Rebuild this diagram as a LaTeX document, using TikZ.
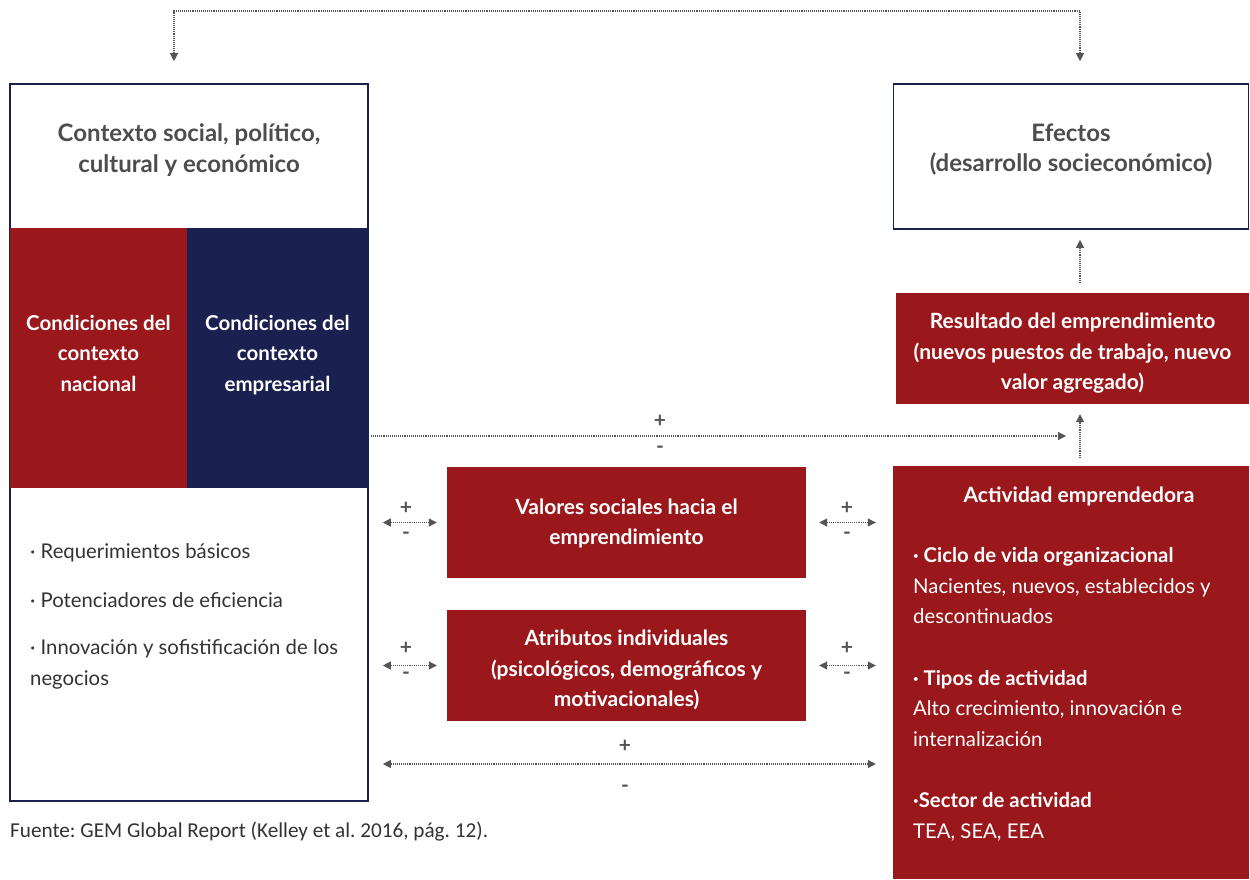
\documentclass[tikz,border=0pt]{standalone}
\usepackage{fontspec}
\setmainfont{Lato}
\newfontfamily\fuentefont{Carlito}
\usetikzlibrary{arrows.meta}
\frenchspacing

\definecolor{rojo}{HTML}{9A181B}
\definecolor{azul}{HTML}{1A2150}
\definecolor{gris}{HTML}{4D4D4F}
\definecolor{flecha}{HTML}{555555}
\definecolor{texto}{HTML}{333333}

\begin{document}
\begin{tikzpicture}[x=1pt, y=-1pt,
    marco/.style={draw=azul, line width=1.6pt, fill=white, inner sep=0pt},
    bloque/.style={fill=rojo, inner sep=0pt},
    letra/.style={text=white, align=center, inner sep=0pt, font=\bfseries\fontsize{21}{30.5}\selectfont},
    titulo/.style={text=gris, align=center, font=\bfseries\fontsize{24}{30.5}\selectfont},
    lista/.style={align=left, inner sep=0pt, font=\fontsize{20.3}{30.5}\selectfont},
    flujo/.style={draw=flecha, densely dotted, line width=1.1pt, -{Triangle[length=8pt,width=8pt]}},
    doble/.style={flujo, {Triangle[length=8pt,width=8pt]}-{Triangle[length=8pt,width=8pt]}},
    signo/.style={text=flecha, font=\bfseries\fontsize{21}{21}\selectfont, inner sep=0pt}]

    \fill[white] (0,0) rectangle (1250,879);

    % contexto
    \node (contexto) at (189,442.5) [marco, minimum width=358pt, minimum height=717pt] {};
    \node (tcontexto) at (189,150) [titulo] {Contexto social, político,\\cultural y económico};
    \node (nacional) at (98.5,358) [bloque, minimum width=177pt, minimum height=260pt] {};
    \node (empresarial) at (277.5,358) [bloque, fill=azul, minimum width=181pt, minimum height=260pt] {};
    \node (tnacional) at ([yshift=5pt]nacional.center) [letra, font=\bfseries\fontsize{20.5}{30.5}\selectfont] {Condiciones del\\contexto\\nacional};
    \node (tempresarial) at ([yshift=3pt]empresarial.center) [letra, font=\bfseries\fontsize{20.5}{30.5}\selectfont] {Condiciones del\\contexto\\empresarial};
    \node (pilares) at (30,543.5) [lista, anchor=north west, text=texto] {%
        · Requerimientos básicos\\[18pt]
        · Potenciadores de eficiencia\\[17pt]
        · Innovación y sofistificación de los\\
        negocios};

    % efectos
    \node (efectos) at (1071,156.5) [marco, minimum width=355pt, minimum height=145pt] {};
    \node (tefectos) at (1071,149.5) [titulo] {Efectos\\(desarrollo socieconómico)};
    \node (resultado) at (1072.5,348.5) [bloque, minimum width=353pt, minimum height=111pt] {};
    \node (tresultado) at ([yshift=-5pt]resultado.center) [letra] {Resultado del emprendimiento\\(nuevos puestos de trabajo, nuevo\\valor agregado)};

    % centro
    \node (valores) at (626.5,522.5) [bloque, minimum width=359pt, minimum height=111pt] {};
    \node (tvalores) at ([yshift=-1pt]valores.center) [letra] {Valores sociales hacia el\\emprendimiento};
    \node (atributos) at (626.5,665.5) [bloque, minimum width=359pt, minimum height=111pt] {};
    \node (tatributos) at ([yshift=-4.5pt]atributos.center) [letra] {Atributos individuales\\(psicológicos, demográficos y\\motivacionales)};

    % actividad
    \node (actividad) at (1071,672.5) [bloque, minimum width=356pt, minimum height=413pt] {};
    \node (tactividad) at (1079,496) [letra] {Actividad emprendedora};
    \node (tipos) at (913,547.5) [lista, anchor=north west, text=white] {%
        \textbf{· Ciclo de vida organizacional}\\
        Nacientes, nuevos, establecidos y\\
        descontinuados\\[31pt]
        \textbf{· Tipos de actividad}\\
        Alto crecimiento, innovación e\\
        internalización\\[31pt]
        \textbf{·Sector de actividad}\\
        TEA, SEA, EEA};

    \coordinate (arriba) at (627,11);
    \coordinate (medio) at (660,436);
    \coordinate (abajo) at (626,764);

    \draw [doble] ([xshift=-15pt,yshift=22pt]contexto.north) |- (arriba) -| ([xshift=9pt,yshift=22pt]efectos.north);
    \draw [flujo, shorten <=10pt, shorten >=10pt] (resultado.north -| 1080,0) -- (efectos.south -| 1080,0);
    \draw [flujo, shorten <=8pt, shorten >=10pt] (actividad.north -| 1080,0) -- (resultado.south -| 1080,0);
    \draw [flujo, shorten <=2pt] (contexto.east |- medio) -- (1066,436);
    \node [signo] at (660,421) {+};
    \node [signo] at (660,450) {-};

    \draw [doble, shorten <=14pt, shorten >=10pt] (contexto.east |- valores.west) -- (valores.west);
    \draw [doble, shorten <=13pt, shorten >=17pt] (valores.east) -- (valores.east -| actividad.west);
    \draw [doble, shorten <=14pt, shorten >=10pt] (contexto.east |- atributos.west) -- (atributos.west);
    \draw [doble, shorten <=13pt, shorten >=17pt] (atributos.east) -- (atributos.east -| actividad.west);
    \foreach \x in {406,847}
      \foreach \y in {523,663} {
        \node [signo] at (\x,\y-15) {+};
        \node [signo] at (\x,\y+13) {-};
      }
    \draw [doble, shorten <=14pt, shorten >=17pt] (contexto.east |- abajo) -- (actividad.west |- abajo);
    \node [signo] at (625,746) {+};
    \node [signo] at (625,789) {-};

    \node (fuente) at (10,832) [anchor=west, inner sep=0pt, text=texto, font=\fuentefont\fontsize{21.2}{24}\selectfont] {Fuente: GEM Global Report (Kelley et al. 2016, pág. 12).};
\end{tikzpicture}
\end{document}
